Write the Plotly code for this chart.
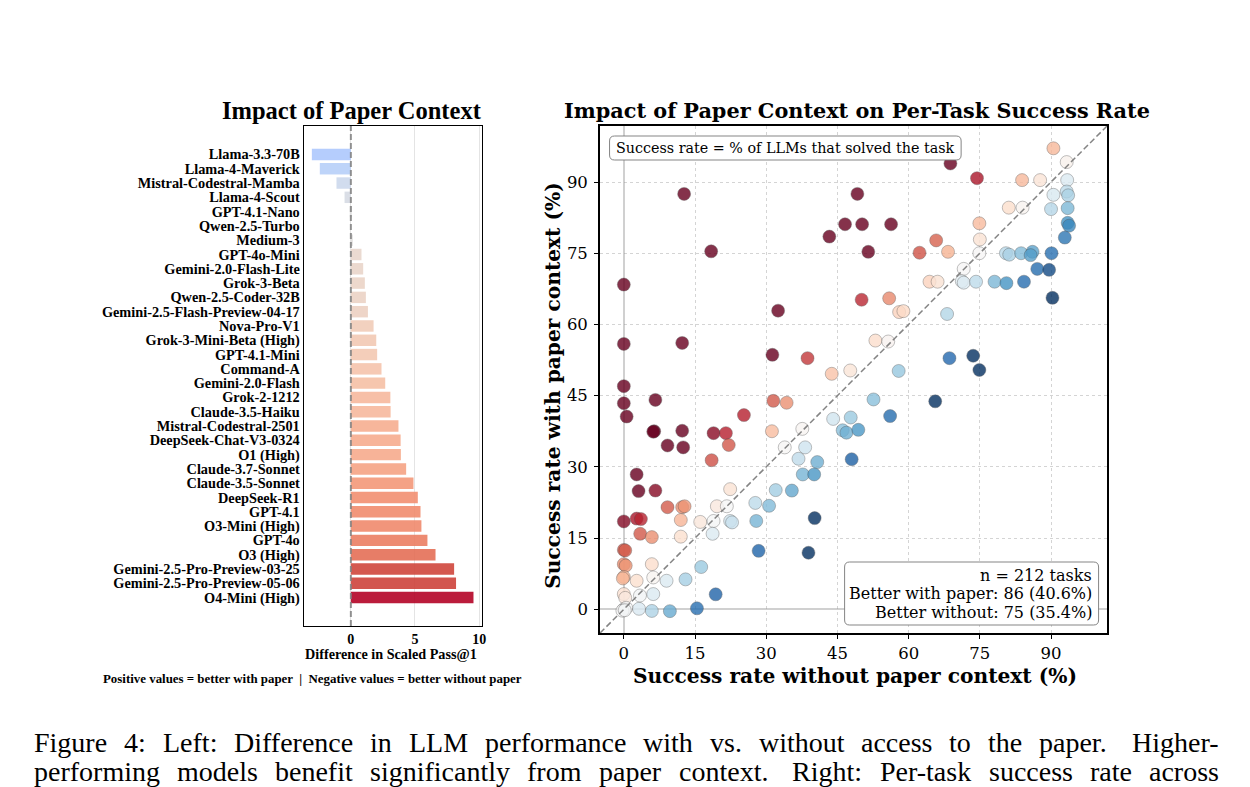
import plotly.graph_objects as go

# ---------------- data ----------------
models = ["Llama-3.3-70B", "Llama-4-Maverick", "Mistral-Codestral-Mamba", "Llama-4-Scout",
          "GPT-4.1-Nano", "Qwen-2.5-Turbo", "Medium-3", "GPT-4o-Mini", "Gemini-2.0-Flash-Lite",
          "Grok-3-Beta", "Qwen-2.5-Coder-32B", "Gemini-2.5-Flash-Preview-04-17", "Nova-Pro-V1",
          "Grok-3-Mini-Beta (High)", "GPT-4.1-Mini", "Command-A", "Gemini-2.0-Flash", "Grok-2-1212",
          "Claude-3.5-Haiku", "Mistral-Codestral-2501", "DeepSeek-Chat-V3-0324", "O1 (High)",
          "Claude-3.7-Sonnet", "Claude-3.5-Sonnet", "DeepSeek-R1", "GPT-4.1", "O3-Mini (High)",
          "GPT-4o", "O3 (High)", "Gemini-2.5-Pro-Preview-03-25", "Gemini-2.5-Pro-Preview-05-06",
          "O4-Mini (High)"]
diff_values = [-3.04, -2.42, -1.12, -0.49, -0.03, 0.0, 0.10, 0.83, 0.96, 1.09, 1.17, 1.33, 1.77,
               1.98, 2.05, 2.39, 2.68, 3.08, 3.10, 3.71, 3.88, 3.90, 4.31, 4.88, 5.22, 5.43, 5.50,
               5.97, 6.60, 8.05, 8.20, 9.56]

# per-task success rates (%), without / with paper context
rate_without = [12.7, 18.4, 0.0, 32.5, 0.0, 12.3, 31.3, 38.7, 43.8, 47.7, 43.3, 46.6, 49.2, 68.8, 74.4,
                90.5, 93.3, 83.9, 87.7, 93.4, 90.5, 93.3, 93.6, 81.1, 84.0, 90.0, 93.5, 50.2, 56.3,
                74.9, 93.5, 93.8, 92.9, 75.0, 65.8, 51.5, 62.3, 68.3, 74.9, 80.5, 81.2, 83.7, 86.1,
                85.7, 90.1, 71.6, 87.1, 89.6, 64.4, 66.1, 71.2, 71.6, 74.2, 78.1, 80.6, 84.3, 90.3,
                50.1, 55.9, 58.0, 58.9, 68.1, 53.0, 55.7, 68.6, 73.6, 74.9, 57.9,
                52.6, 65.6, 56.1,
                0.0, 0.0, 0.6, 6.65, 6.4, 6.2, 12.3, 9.2, 12.5, 18.9, 21.5, 22.1, 25.3, 31.5, 34.3,
                31.2, 37.6, 33.9, 18.5, 44.1, 47.8, 46.1, 46.9, 49.4, 48.0, 38.2, 36.8, 40.75, 37.7,
                40.1, 32.0, 35.4, 27.7, 30.6, 27.9, 40.2, 28.4, 38.9, 2.7, 3.1, 6.65, 0.0, 2.7, 3.6,
                3.45, 5.9, 9.2, 12.3, 12.8, 12.0, 12.0, 16.1, 19.6, 22.4, 21.7, 18.9, 22.4, 22.8,
                18.7, 0.0, 0.3, 0.0, 0.4, 0.0, -0.2, 5.9, 2.7, 6.2, 9.0, 13.0, 16.3, 19.35, 15.4,
                9.7, 5.9, 3.2, 3.4, 6.2, 0.0, 0.3, 0.0, 0.5, -0.3, 0.2]
rate_with = [87.5, 75.4, 68.4, 62.9, 55.9, 56.1, 53.6, 52.9, 49.6, 50.3, 78.5, 81.1, 87.5, 93.9, 90.8,
             97.1, 94.2, 90.4, 90.4, 90.4, 87.3, 88.0, 87.2, 84.6, 84.6, 84.3, 84.5, 81.1, 81.1,
             81.3, 81.4, 80.8, 78.3, 77.9, 77.7, 75.3, 75.1, 75.3, 75.0, 75.0, 74.7, 75.0, 75.3,
             74.6, 75.0, 71.7, 71.7, 71.5, 69.0, 69.0, 69.1, 68.8, 69.0, 69.0, 68.7, 69.0, 65.6,
             65.2, 65.5, 62.6, 62.8, 62.2, 56.6, 56.4, 52.9, 53.4, 50.4, 50.2,
             44.2, 43.8, 40.7,
             47.0, 43.4, 40.6, 44.1, 37.5, 37.4, 37.6, 34.5, 34.1, 37.1, 37.1, 34.6, 40.9, 43.9, 43.5,
             37.5, 38.0, 34.1, 31.4, 40.1, 40.4, 37.7, 37.2, 37.8, 31.6, 34.1, 31.7, 31.0, 28.4,
             28.4, 25.1, 25.0, 22.4, 21.8, 18.6, 19.2, 12.3, 11.9, 28.4, 24.9, 25.0, 18.5, 19.1, 19.0,
             15.9, 15.2, 21.5, 21.5, 21.7, 18.8, 15.3, 18.4, 21.7, 25.3, 21.7, 18.6, 18.6, 18.3,
             15.9, 12.5, 12.4, 9.5, 9.2, 6.8, 6.5, 9.5, 6.0, 6.7, 6.0, 6.3, 8.9, 3.15, 0.2,
             -0.4, -0.35, 0.1, 2.9, 3.2, 3.2, 2.4, 0.0, 0.3, -0.3, -0.2]

x_ticks_left = [0, 5, 10]
ticks_right = [0, 15, 30, 45, 60, 75, 90]
n_tasks, better_with, better_without = 212, 86, 75

caption_lines = [
    "Figure 4: Left: Difference in LLM performance with vs. without access to the paper. Higher-",
    "performing models benefit significantly from paper context. Right: Per-task success rate across",
]

# ---------------- helpers ----------------
W, H = 1250, 787


def fx(p):
    return p / W


def fy(p):
    return 1 - p / H


def rounded_box(x0, y0, x1, y1, r=5):
    rx, ry = r / W, r / H
    X0, X1, Y0, Y1 = fx(x0), fx(x1), fy(y1), fy(y0)  # Y0 bottom, Y1 top
    return (f"M {X0+rx},{Y0} L {X1-rx},{Y0} Q {X1},{Y0} {X1},{Y0+ry} "
            f"L {X1},{Y1-ry} Q {X1},{Y1} {X1-rx},{Y1} L {X0+rx},{Y1} "
            f"Q {X0},{Y1} {X0},{Y1-ry} L {X0},{Y0+ry} Q {X0},{Y0} {X0+rx},{Y0} Z")


# Times-Roman advance widths (1/1000 em), used to justify the caption text
TIMES_W = {" ": 250, "-": 333, ".": 250, ":": 278, ",": 250}
TIMES_W.update({d: 500 for d in "0123456789"})
TIMES_W.update(dict(zip("ABCDEFGHIJKLMNOPQRSTUVWXYZ",
                        [722, 667, 667, 722, 611, 556, 722, 722, 333, 389, 722, 611, 889, 722, 722,
                         556, 722, 667, 556, 611, 722, 722, 944, 722, 722, 611])))
TIMES_W.update(dict(zip("abcdefghijklmnopqrstuvwxyz",
                        [444, 500, 444, 500, 444, 333, 500, 500, 278, 278, 500, 278, 778, 500, 500,
                         500, 500, 333, 389, 278, 500, 500, 722, 500, 500, 444])))


def word_width(w, size):
    return sum(TIMES_W.get(c, 500) for c in w) / 1000 * size


coolwarm_pts = [(59, 76, 192), (68, 90, 204), (77, 104, 215), (87, 117, 225), (98, 130, 234),
                (108, 142, 241), (119, 154, 247), (130, 165, 251), (141, 176, 254), (152, 185, 255),
                (163, 194, 255), (174, 201, 253), (184, 208, 249), (194, 213, 244), (204, 217, 238),
                (213, 219, 230), (221, 221, 221), (229, 216, 209), (236, 211, 197), (241, 204, 184),
                (245, 196, 172), (247, 187, 160), (247, 177, 148), (247, 166, 135), (244, 154, 123),
                (241, 141, 111), (236, 127, 99), (229, 112, 88), (222, 96, 77), (213, 80, 66),
                (203, 62, 56), (192, 40, 47), (180, 4, 38)]
coolwarm = [[i / (len(coolwarm_pts) - 1), f"rgb{c}"] for i, c in enumerate(coolwarm_pts)]
rdbu_r_hex = ["#053061", "#2166ac", "#4393c3", "#92c5de", "#d1e5f0", "#f7f7f7",
              "#fddbc7", "#f4a582", "#d6604d", "#b2182b", "#67001f"]
rdbu_r = [[i / 10, c] for i, c in enumerate(rdbu_r_hex)]

SERIF_L = "Liberation Serif"
SERIF_R = "DejaVu Serif"

fig = go.Figure()

# ---------------- left: bar chart ----------------
vmax = max(abs(v) for v in diff_values)
fig.add_trace(go.Bar(
    x=diff_values, y=list(range(len(models))), orientation="h", width=0.8,
    marker=dict(color=diff_values, colorscale=coolwarm, cmin=-vmax, cmax=vmax, line=dict(width=0)),
    opacity=0.9, xaxis="x", yaxis="y", showlegend=False, hoverinfo="skip"))

# ---------------- right: scatter ----------------
task_diff = [w - wo for w, wo in zip(rate_with, rate_without)]
fig.add_trace(go.Scatter(
    x=rate_without, y=rate_with, mode="markers",
    marker=dict(size=13, color=task_diff, colorscale=rdbu_r, cmin=-20, cmax=20, opacity=0.8,
                line=dict(width=0.6, color="rgba(70,70,70,0.7)")),
    xaxis="x2", yaxis="y2", showlegend=False, hoverinfo="skip"))

lo, hi = -5, 101.8
fig.add_trace(go.Scatter(
    x=[lo, hi], y=[lo, hi], mode="lines",
    line=dict(color="rgba(110,110,110,0.85)", width=1.5, dash="6px,3px"),
    xaxis="x2", yaxis="y2", showlegend=False, hoverinfo="skip"))

# ---------------- axes ----------------
fig.update_layout(
    width=W, height=H, margin=dict(l=0, r=0, t=0, b=0),
    paper_bgcolor="white", plot_bgcolor="white",
    xaxis=dict(domain=[fx(305), fx(483.5)], anchor="y", range=[-3.67, 10.19],
               tickvals=x_ticks_left, showgrid=True, gridcolor="#e4e4e4", gridwidth=1,
               zeroline=False, showline=True, mirror=True, linecolor="black", linewidth=1.3,
               ticks="", tickfont=dict(family=SERIF_L, size=14, color="black", weight="bold")),
    yaxis=dict(domain=[fy(626), fy(126)], anchor="x", range=[32.99, -1.99],
               tickvals=list(range(len(models))), ticktext=models, showgrid=False,
               zeroline=False, showline=True, mirror=True, linecolor="black", linewidth=1.3,
               ticks="", ticklabelstandoff=0,
               tickfont=dict(family=SERIF_L, size=14.3, color="black", weight="bold")),
    xaxis2=dict(domain=[fx(602.5), fx(1111.5)], anchor="y2", range=[lo, hi], tickvals=ticks_right,
                showgrid=True, gridcolor="#d4d4d4", griddash="dot", gridwidth=1,
                zeroline=True, zerolinecolor="rgba(150,150,150,0.45)", zerolinewidth=1.5,
                showline=True, mirror=True, linecolor="black", linewidth=1.8,
                ticks="outside", ticklen=4, tickcolor="black",
                tickfont=dict(family=SERIF_R, size=16.5, color="black")),
    yaxis2=dict(domain=[fy(633), fy(126)], anchor="x2", range=[lo, hi], tickvals=ticks_right,
                showgrid=True, gridcolor="#d4d4d4", griddash="dot", gridwidth=1,
                zeroline=True, zerolinecolor="rgba(150,150,150,0.45)", zerolinewidth=1.5,
                showline=True, mirror=True, linecolor="black", linewidth=1.8,
                ticks="outside", ticklen=4, tickcolor="black", ticklabelstandoff=3,
                tickfont=dict(family=SERIF_R, size=16.5, color="black")),
)

# dashed zero line on bar chart
fig.add_shape(type="line", xref="x", yref="y domain", x0=0, x1=0, y0=0, y1=1,
              line=dict(color="rgba(128,128,128,0.85)", width=2, dash="6px,3px"), layer="above")

# annotation boxes
fig.add_shape(type="path", xref="paper", yref="paper", path=rounded_box(612, 136, 965, 160),
              line=dict(color="rgba(120,120,120,0.9)", width=1), fillcolor="white", layer="above")
fig.add_shape(type="path", xref="paper", yref="paper", path=rounded_box(848, 562, 1103, 625),
              line=dict(color="rgba(120,120,120,0.9)", width=1), fillcolor="white", layer="above")


def text(x, y, s, size, family, bold=False, xanchor="center", angle=0, color="black"):
    fig.add_annotation(x=fx(x), y=fy(y), xref="paper", yref="paper", text=s, showarrow=False,
                       xanchor=xanchor, yanchor="middle", textangle=angle,
                       font=dict(family=family, size=size, color=color,
                                 weight="bold" if bold else "normal"))


text(353, 110, "Impact of Paper Context", 24.5, SERIF_L, bold=True)
text(393, 654, "Difference in Scaled Pass@1", 14.2, SERIF_L, bold=True)
text(314, 679, "Positive values = better with paper  |  Negative values = better without paper",
     12.9, SERIF_L, bold=True)

text(860, 110, "Impact of Paper Context on Per-Task Success Rate", 20.8, SERIF_R, bold=True)
text(858, 676, "Success rate without paper context (%)", 20.2, SERIF_R, bold=True)
text(555, 385, "Success rate with paper context (%)", 20.2, SERIF_R, bold=True, angle=-90)

text(788.5, 148, "Success rate = % of LLMs that solved the task", 14.3, SERIF_R)
text(1098, 575, f"n = {n_tasks} tasks", 16, SERIF_R, xanchor="right")
text(1098, 593.5, f"Better with paper: {better_with} ({better_with / n_tasks * 100:.1f}%)", 16,
     SERIF_R, xanchor="right")
text(1098, 612, f"Better without: {better_without} ({better_without / n_tasks * 100:.1f}%)", 16,
     SERIF_R, xanchor="right")

# caption: fully justified between x=32 and x=1222 (word by word)
CAP_SIZE = 28
for line, yc in zip(caption_lines, [742.5, 771.5]):
    words = line.split(" ")
    widths = [word_width(w, CAP_SIZE) for w in words]
    weights = [1.4 if (w.endswith(".") and words[i + 1][0].isupper()) else 1.0
               for i, w in enumerate(words[:-1])]
    gap_unit = (1222 - 32 - sum(widths)) / sum(weights)
    xpos = 32
    for i, w in enumerate(words):
        text(xpos, yc, w, CAP_SIZE, SERIF_L, xanchor="left")
        if i < len(words) - 1:
            xpos += widths[i] + gap_unit * weights[i]

fig.write_html("out.html")
